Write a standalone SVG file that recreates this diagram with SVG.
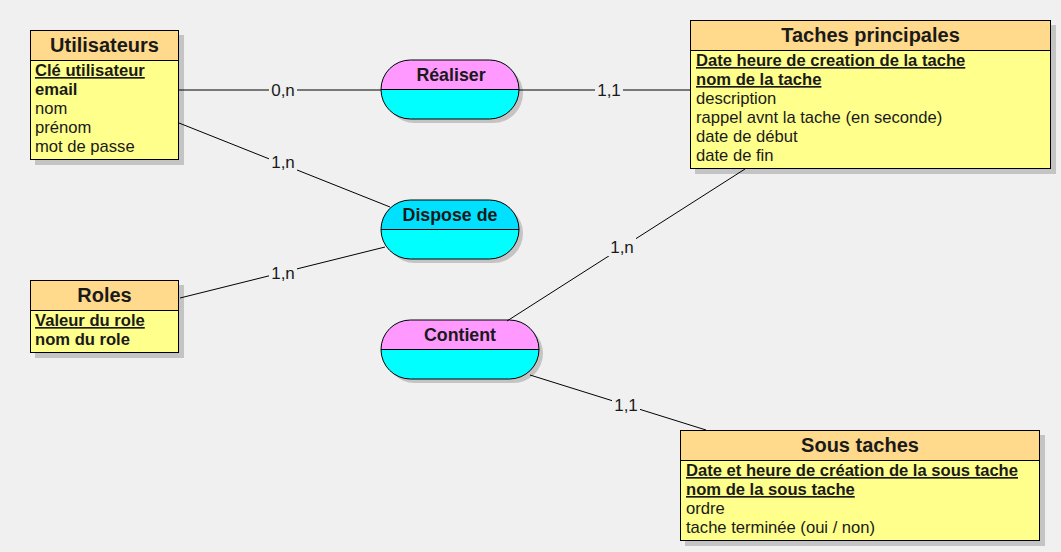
<svg xmlns="http://www.w3.org/2000/svg" width="1061" height="552" viewBox="0 0 1061 552">
<defs>
<style>
.ent-h{fill:#ffd98c;stroke:#000;stroke-width:1}
.ent-b{fill:#ffff8c;stroke:#000;stroke-width:1}
.shadow{fill:#c4c4c4}
.title{font-family:"Liberation Sans",Arial,sans-serif;font-size:20px;font-weight:bold;fill:#1a1a1a;text-anchor:middle}
.attr{font-family:"Liberation Sans",Arial,sans-serif;font-size:16.6px;fill:#1a1a1a}
.key{font-weight:bold;text-decoration:underline}
.bold{font-weight:bold}
.rel-t{font-family:"Liberation Sans",Arial,sans-serif;font-size:17.8px;font-weight:bold;fill:#1a1a1a;text-anchor:middle}
.pink{fill:#ff99ff}
.cyan{fill:#00ffff}
.cyan2{fill:#00e0ff}
.outline{fill:none;stroke:#000;stroke-width:1}
.link{stroke:#000;stroke-width:1;fill:none}
.lbl{font-family:"Liberation Sans",Arial,sans-serif;font-size:17px;fill:#1a1a1a;text-anchor:middle}
.lblbg{fill:#f0f0f0}
</style>
</defs>
<rect width="1061" height="552" fill="#f0f0f0"/>

<g id="utilisateurs">
<rect class="shadow" x="35" y="35" width="149" height="130"/>
<rect class="ent-b" x="30.5" y="30.5" width="148" height="129"/>
<rect class="ent-h" x="30.5" y="30.5" width="148" height="30"/>
<text class="title" x="104.5" y="52">Utilisateurs</text>
<text class="attr key" x="35" y="76">Clé utilisateur</text>
<text class="attr bold" x="35" y="95">email</text>
<text class="attr" x="35" y="114">nom</text>
<text class="attr" x="35" y="133">prénom</text>
<text class="attr" x="35" y="152">mot de passe</text>
</g>

<g id="roles">
<rect class="shadow" x="35" y="285" width="149" height="73"/>
<rect class="ent-b" x="30.5" y="280.5" width="148" height="72"/>
<rect class="ent-h" x="30.5" y="280.5" width="148" height="30"/>
<text class="title" x="104.5" y="302">Roles</text>
<text class="attr key" x="35" y="326">Valeur du role</text>
<text class="attr bold" x="35" y="345">nom du role</text>
</g>

<g id="taches-principales">
<rect class="shadow" x="695" y="25" width="361" height="149"/>
<rect class="ent-b" x="690.5" y="20.5" width="360" height="148"/>
<rect class="ent-h" x="690.5" y="20.5" width="360" height="30"/>
<text class="title" x="870.5" y="42">Taches principales</text>
<text class="attr key" x="696" y="66">Date heure de creation de la tache</text>
<text class="attr key" x="696" y="85">nom de la tache</text>
<text class="attr" x="696" y="104">description</text>
<text class="attr" x="696" y="123">rappel avnt la tache (en seconde)</text>
<text class="attr" x="696" y="142">date de début</text>
<text class="attr" x="696" y="161">date de fin</text>
</g>

<g id="sous-taches">
<rect class="shadow" x="685" y="435" width="360" height="111"/>
<rect class="ent-b" x="680.5" y="430.5" width="359" height="110"/>
<rect class="ent-h" x="680.5" y="430.5" width="359" height="30"/>
<text class="title" x="860" y="452">Sous taches</text>
<text class="attr key" x="686" y="476">Date et heure de création de la sous tache</text>
<text class="attr key" x="686" y="495">nom de la sous tache</text>
<text class="attr" x="686" y="514">ordre</text>
<text class="attr" x="686" y="533">tache terminée (oui / non)</text>
</g>

<g id="realiser">
<rect class="shadow" x="385" y="64" width="138" height="59" rx="29.5"/>
<rect class="cyan" x="381" y="60" width="138" height="59" rx="29.5"/>
<path class="pink" d="M410.5,60 H489.5 A29.5,29.5 0 0 1 519,89.5 H381 A29.5,29.5 0 0 1 410.5,60 Z"/>
<line class="outline" x1="381" y1="89.5" x2="519" y2="89.5"/>
<rect class="outline" x="381" y="60" width="138" height="59" rx="29.5"/>
<text class="rel-t" x="451" y="81">Réaliser</text>
</g>

<g id="dispose-de">
<rect class="shadow" x="385" y="204" width="138" height="59" rx="29.5"/>
<rect class="cyan" x="381" y="200" width="138" height="59" rx="29.5"/>
<path class="cyan2" d="M410.5,200 H489.5 A29.5,29.5 0 0 1 519,229.5 H381 A29.5,29.5 0 0 1 410.5,200 Z"/>
<line class="outline" x1="381" y1="229.5" x2="519" y2="229.5"/>
<rect class="outline" x="381" y="200" width="138" height="59" rx="29.5"/>
<text class="rel-t" x="450" y="221">Dispose de</text>
</g>

<g id="contient">
<rect class="shadow" x="385" y="324" width="158" height="59" rx="29.5"/>
<rect class="cyan" x="381" y="320" width="158" height="59" rx="29.5"/>
<path class="pink" d="M410.5,320 H509.5 A29.5,29.5 0 0 1 539,349.5 H381 A29.5,29.5 0 0 1 410.5,320 Z"/>
<line class="outline" x1="381" y1="349.5" x2="539" y2="349.5"/>
<rect class="outline" x="381" y="320" width="158" height="59" rx="29.5"/>
<text class="rel-t" x="460" y="341">Contient</text>
</g>

<g id="connectors">
<line class="link" x1="179" y1="90" x2="381" y2="90"/>
<line class="link" x1="519" y1="90" x2="690" y2="90"/>
<line class="link" x1="179" y1="123" x2="390" y2="207"/>
<line class="link" x1="180" y1="298" x2="385" y2="247"/>
<line class="link" x1="745" y1="169" x2="507" y2="321"/>
<line class="link" x1="530" y1="375" x2="706" y2="430"/>
<rect class="lblbg" x="269" y="81" width="28" height="18"/>
<text class="lbl" x="283" y="96">0,n</text>
<rect class="lblbg" x="595" y="81" width="28" height="18"/>
<text class="lbl" x="609" y="96">1,1</text>
<rect class="lblbg" x="269" y="153" width="28" height="18"/>
<text class="lbl" x="283" y="168">1,n</text>
<rect class="lblbg" x="269" y="264" width="28" height="18"/>
<text class="lbl" x="283" y="279">1,n</text>
<rect class="lblbg" x="608" y="238" width="28" height="18"/>
<text class="lbl" x="622" y="253">1,n</text>
<rect class="lblbg" x="612" y="396" width="28" height="18"/>
<text class="lbl" x="626" y="411">1,1</text>
</g>
</svg>
